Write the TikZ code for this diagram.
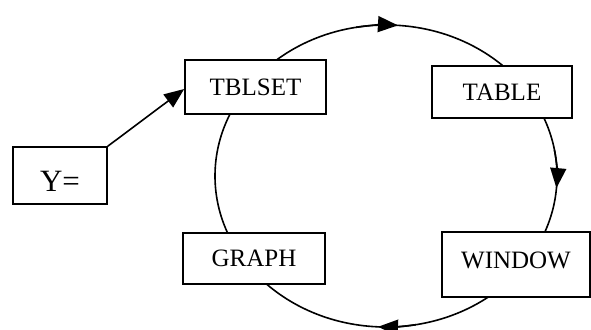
\documentclass[tikz,border=0pt]{standalone}
\usepackage{fontspec}
\setmainfont{Liberation Serif}
\usetikzlibrary{arrows.meta,calc}
\begin{document}
\begin{tikzpicture}[x=1pt,y=-1pt,
  box/.style={draw, fill=white, line width=1.6pt, inner sep=0pt,
    font=\fontsize{25}{28}\selectfont},
  cyc/.style={line width=1.6pt},
  tip/.style={line width=1.6pt, -{Triangle[length=20pt,width=16pt]}}]
\useasboundingbox (0,0) rectangle (591,329);
% cycle ellipse
\coordinate (c) at (386,176);
\draw[cyc] (c) ellipse [x radius=171, y radius=151];
% arrow heads on the cycle
\draw[tip] ($(c)+(-100:171 and 151)$) arc[start angle=-100, end angle=-86, x radius=171, y radius=151];
\draw[tip] ($(c)+(-10:171 and 151)$) arc[start angle=-10, end angle=4.6, x radius=171, y radius=151];
\draw[tip] ($(c)+(80:171 and 151)$) arc[start angle=80, end angle=92.7, x radius=171, y radius=151];
% boxes
\node[box, minimum width=141, minimum height=54] (tblset) at (255.5,87) {TBLSET};
\node[box, minimum width=140, minimum height=52] (table) at (502,92) {TABLE};
\node[box, minimum width=148, minimum height=65, text depth=8pt] (window) at (516,264.5) {WINDOW};
\node[box, minimum width=142, minimum height=51] (graph) at (254,258.5) {GRAPH};
\node[box, minimum width=94, minimum height=57, text height=32pt, text depth=0pt,
  font=\fontsize{31}{34}\selectfont] (y) at (60,175.5) {Y=};
% Y= to TBLSET
\draw[tip] (y.north east) -- ([yshift=-2]tblset.west);
\end{tikzpicture}
\end{document}
